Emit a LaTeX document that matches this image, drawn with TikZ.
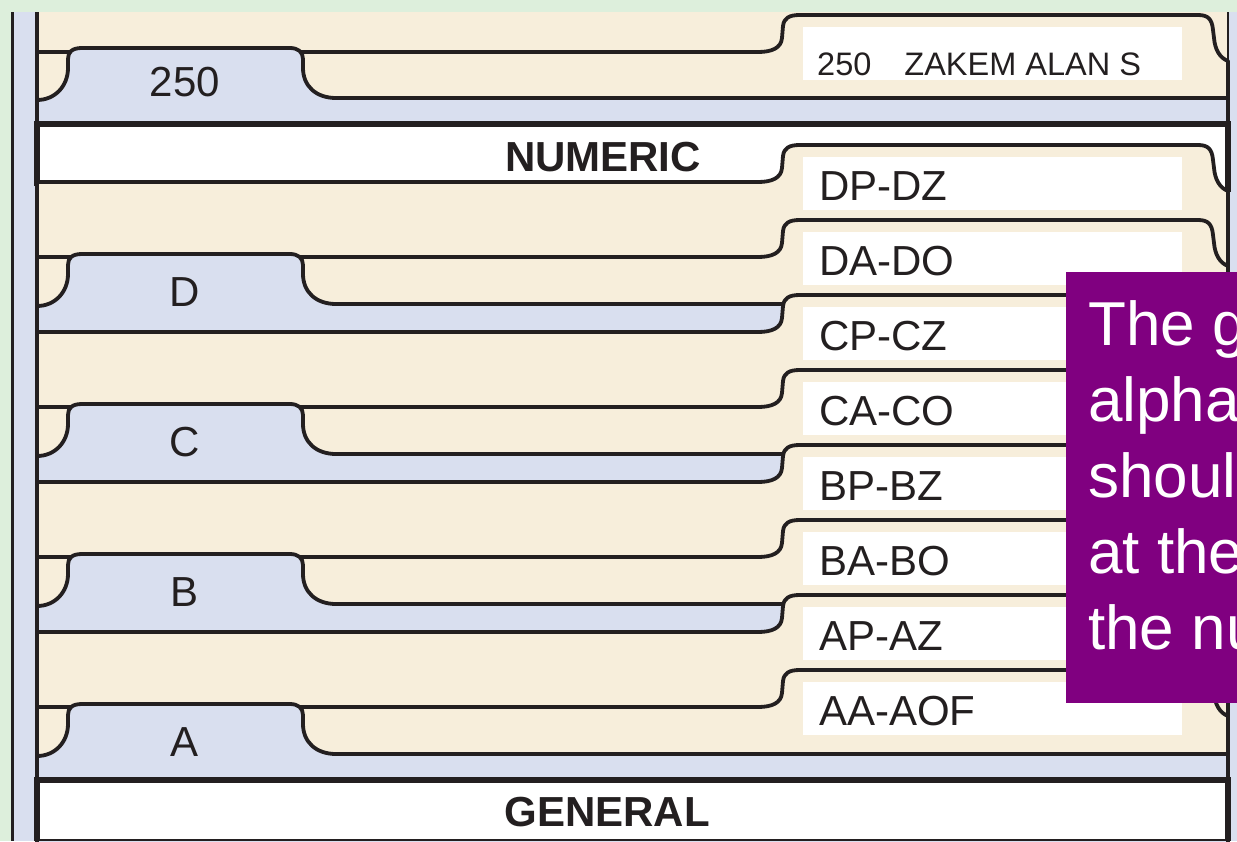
\documentclass[tikz,border=0pt]{standalone}
\usepackage{fontspec}
\setmainfont{Liberation Sans}
\definecolor{drawergreen}{HTML}{DDEFDC}
\definecolor{guideblue}{HTML}{D9DFEF}
\definecolor{foldercream}{HTML}{F7EEDB}
\definecolor{inkblack}{HTML}{231F20}
\definecolor{notepurple}{HTML}{800080}

\tikzset{
  folderline/.style={draw=inkblack,line width=3.8pt,fill=foldercream,line join=round},
  guideline/.style={draw=inkblack,line width=3.8pt,fill=guideblue,line join=round},
  mainguide/.style={draw=inkblack,line width=6pt},
  labelbox/.style={fill=white},
  tabtext/.style={font=\fontsize{42}{48}\selectfont,inner sep=0pt,text=inkblack},
  notetext/.style={text=white,font=\fontsize{62}{76}\selectfont,anchor=base west,inner sep=0pt},
}

% folder with a tab on the right, #1 = top edge
\newcommand{\drawfolder}[1]{%
  \draw[folderline] (37,#1) -- (758,#1)
    .. controls (772,#1) and (781,#1-4) .. (782,#1-14) -- (783,#1-26)
    .. controls (784,#1-34) and (789,#1-37) .. (800,#1-37) -- (1198,#1-37)
    .. controls (1208,#1-37) and (1212,#1-33) .. (1213,#1-22) -- (1214,#1-14)
    .. controls (1215,#1-2) and (1220,#1+6) .. (1228,#1+9)
    -- (1228,860) -- (37,860) -- cycle;
  \fill[labelbox] (803,#1-25) rectangle (1182,#1+28);
}
% guide with a tab on the left, #1 = top edge beside the tab
\newcommand{\drawguide}[1]{%
  \draw[guideline] (37,#1+2) .. controls (55,#1+2) and (68,#1-12) .. (68,#1-30)
    -- (68,#1-39) .. controls (68,#1-46) and (72,#1-50) .. (82,#1-50)
    -- (290,#1-50) .. controls (298,#1-50) and (303,#1-46) .. (303,#1-39)
    -- (303,#1-30) .. controls (303,#1-12) and (316,#1) .. (336,#1)
    -- (1228,#1) -- (1228,860) -- (37,860) -- cycle;
}

\begin{document}
\begin{tikzpicture}[x=1pt,y=-1pt]
\useasboundingbox (0,0) rectangle (1237,841);
\clip (0,0) rectangle (1237,841);
\fill[drawergreen] (0,0) rectangle (1237,841);
\fill[guideblue] (12,12) rectangle (37,841);
\fill[guideblue] (1228,12) rectangle (1237,841);
\fill[foldercream] (37,12) rectangle (1228,841);
\draw[inkblack,line width=3.5pt] (12.5,12) -- (12.5,841);
\draw[inkblack,line width=2.5pt] (1228,12) -- (1228,841);
\draw[inkblack,line width=3.8pt] (37,12) -- (37,841);

% back folder and numeric guide
\drawfolder{52}
\node[tabtext,font=\fontsize{32.5}{38}\selectfont,anchor=base west] (labtop) at (817,75) {250\hspace{33pt}ZAKEM ALAN S};
\drawguide{98}
\node[tabtext] (guidenum) at (185,82) {250};

\fill[white] (37,124) rectangle (1228,860);
\draw[mainguide] (37,186) -- (37,124) -- (1228,124) -- (1228,192);
\node[tabtext,font=\fontsize{42}{48}\selectfont\bfseries] (numeric) at (603,157) {NUMERIC};

% alphabetic sections
\foreach \k/\first/\second/\letter in {0/DP-DZ/DA-DO/D, 1/CP-CZ/CA-CO/C, 2/BP-BZ/BA-BO/B, 3/AP-AZ/AA-AOF/A}{
  \pgfmathsetmacro{\ta}{182+150*\k}
  \pgfmathsetmacro{\tb}{257+150*\k}
  \pgfmathsetmacro{\gy}{304+150*\k}
  \drawfolder{\ta}
  \node[tabtext,anchor=base west] (lab\letter1) at (819,\ta+18) {\first};
  \drawfolder{\tb}
  \node[tabtext,anchor=base west] (lab\letter2) at (819,\tb+18) {\second};
  \drawguide{\gy}
  \node[tabtext] (guide\letter) at (185,\gy-12) {\letter};
}

% general guide
\fill[white] (37,780) rectangle (1228,841);
\draw[mainguide] (37,841) -- (37,780) -- (1228,780) -- (1228,841);
\draw[inkblack,line width=2pt] (37,839.5) -- (1228,839.5);
\node[tabtext,font=\fontsize{42}{48}\selectfont\bfseries] (general) at (607,812) {GENERAL};

% note box
\fill[notepurple] (1066,272) rectangle (1240,703);
\foreach \ln [count=\i] in {The g,alpha,shoul,at the,the nu}
  \node[notetext] (note\i) at (1088,{345+76*(\i-1)}) {\ln};
\end{tikzpicture}
\end{document}
